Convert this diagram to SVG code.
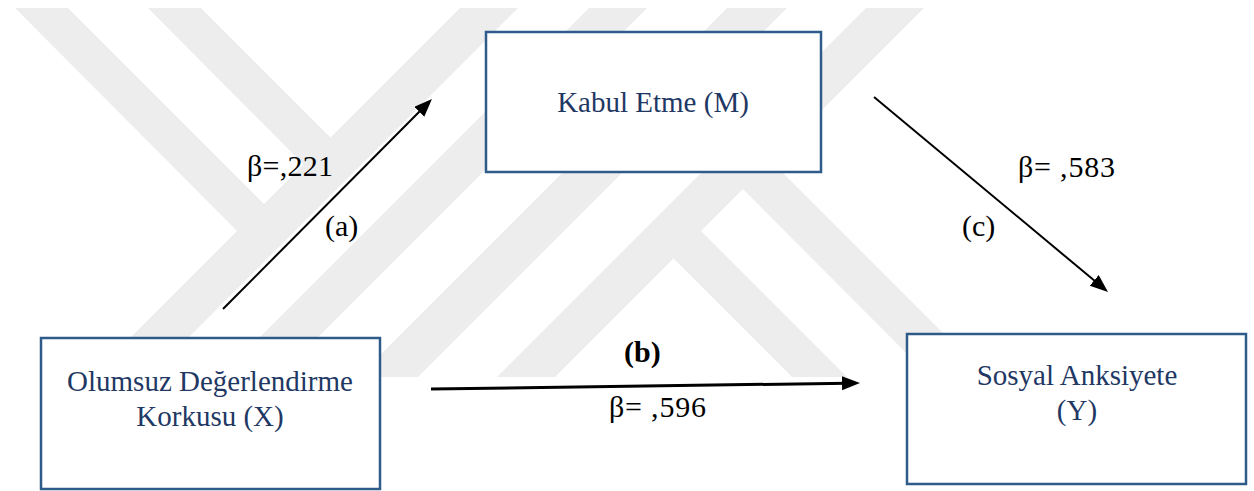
<svg xmlns="http://www.w3.org/2000/svg" width="1254" height="491" viewBox="0 0 1254 491">
  <defs>
    <style>
      .wm { fill: #ededed; }
      .box { fill: #ffffff; stroke: #2e5b8a; stroke-width: 2.5; }
      .node-text { font-family: "Liberation Serif", "Times New Roman", serif; font-size: 29px; fill: #1f3864; text-anchor: middle; }
      .label { font-family: "Liberation Serif", "Times New Roman", serif; font-size: 30px; fill: #000000; }
      .bold { font-weight: bold; }
      .edge { stroke: #000000; stroke-width: 2; fill: none; }
      .edge-thick { stroke: #000000; stroke-width: 3; fill: none; }
    </style>
    <marker id="arrow" markerUnits="userSpaceOnUse" markerWidth="20" markerHeight="16" refX="6" refY="7" orient="auto">
      <path d="M0,0 L18,7 L0,14 Z" fill="#000000"/>
    </marker>
    <clipPath id="wmclip">
      <rect x="0" y="8" width="1254" height="369"/>
    </clipPath>
  </defs>

  <rect x="0" y="0" width="1254" height="491" fill="#ffffff"/>

  <g id="watermark" clip-path="url(#wmclip)">
    <polygon class="wm" points="460,8 518,8 149,377 91,377"/>
    <polygon class="wm" points="15,8 68,8 280,220 253,247"/>
    <polygon class="wm" points="148,8 201,8 347,154 320,181"/>
    <polygon class="wm" points="589,8 647,8 278,377 220,377"/>
    <polygon class="wm" points="727,8 787,8 418,377 358,377"/>
    <polygon class="wm" points="866,8 924,8 555,377 497,377"/>
    <polygon class="wm" points="727,173 755,145 987,377 930,377"/>
    <polygon class="wm" points="657,242 685,215 847,377 792,377"/>
  </g>

  <g id="connectors">
    <line class="edge" x1="223" y1="309" x2="423.5" y2="107.5" marker-end="url(#arrow)"/>
    <line class="edge" x1="874" y1="97" x2="1098.8" y2="284.3" marker-end="url(#arrow)"/>
    <line class="edge-thick" x1="431" y1="389" x2="848" y2="383.2" marker-end="url(#arrow)"/>
    <text class="label" x="247" y="176" textLength="86">β=,221</text>
    <text class="label" x="325" y="236">(a)</text>
    <text class="label" x="1018" y="177" textLength="97">β= ,583</text>
    <text class="label" x="962" y="236">(c)</text>
    <text class="label bold" x="624" y="362">(b)</text>
    <text class="label" x="609" y="417" textLength="97">β= ,596</text>
  </g>

  <g id="node-M">
    <rect class="box" x="486" y="32" width="335" height="140"/>
    <text class="node-text" x="653" y="112">Kabul Etme (M)</text>
  </g>

  <g id="node-X">
    <rect class="box" x="41" y="338" width="339" height="151"/>
    <text class="node-text" x="210" y="391">Olumsuz Değerlendirme</text>
    <text class="node-text" x="210" y="426">Korkusu (X)</text>
  </g>

  <g id="node-Y">
    <rect class="box" x="907" y="334" width="339" height="150"/>
    <text class="node-text" x="1077" y="385">Sosyal Anksiyete</text>
    <text class="node-text" x="1077" y="420">(Y)</text>
  </g>
</svg>
